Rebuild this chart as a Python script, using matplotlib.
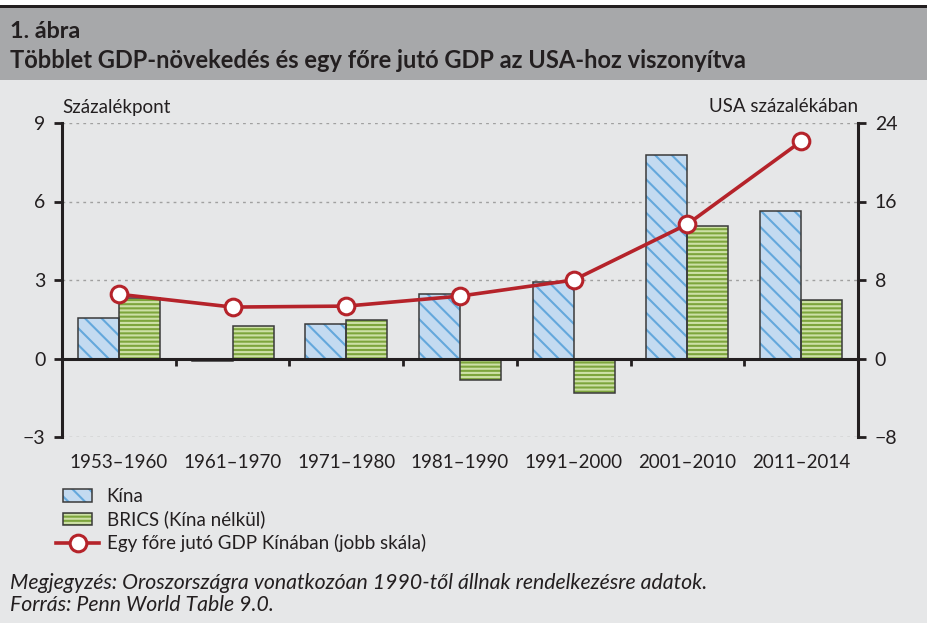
import matplotlib
matplotlib.use("Agg")
import matplotlib.pyplot as plt
import numpy as np
from matplotlib.patches import Patch, Rectangle
from matplotlib.lines import Line2D
from matplotlib.legend_handler import HandlerTuple, HandlerPatch

# data
periods = ["1953–1960", "1961–1970", "1971–1980", "1981–1990",
           "1991–2000", "2001–2010", "2011–2014"]
kina = [1.54, -0.08, 1.30, 2.46, 2.94, 7.77, 5.62]
brics = [2.33, 1.25, 1.48, -0.84, -1.31, 5.07, 2.23]
gdp_per_capita = [6.55, 5.24, 5.34, 6.36, 8.0, 13.69, 22.13]

left_ticks = [-3, 0, 3, 6, 9]
right_ticks = [-8, 0, 8, 16, 24]

bg = "#e6e7e8"
band = "#a7a8aa"
blue_face, blue_hatch = "#c3daf0", "#64a8dc"
green_face, green_hatch = "#7da53c", "#cde0a6"
red = "#b5232a"
dark = "#231f20"

plt.rcParams["font.family"] = ["Lato", "DejaVu Sans"]
plt.rcParams["hatch.linewidth"] = 1.5
plt.rcParams["text.color"] = dark

fig = plt.figure(figsize=(9.33, 6.23), dpi=100, facecolor="white")

# backgrounds
fig.patches.append(Rectangle((0, 0), 927 / 933, 1 - 5 / 623, transform=fig.transFigure,
                             facecolor=bg, edgecolor="none", zorder=-10))
fig.patches.append(Rectangle((0, 1 - 80 / 623), 927 / 933, 72 / 623, transform=fig.transFigure,
                             facecolor=band, edgecolor="none", zorder=-9))
fig.patches.append(Rectangle((0, 1 - 8 / 623), 927 / 933, 3 / 623, transform=fig.transFigure,
                             facecolor=dark, edgecolor="none", zorder=-8))

fig.text(10 / 933, 1 - 31 / 623, "1. ábra", fontsize=16.8, fontweight="bold", va="center")
fig.text(10 / 933, 1 - 60 / 623, "Többlet GDP-növekedés és egy főre jutó GDP az USA-hoz viszonyítva",
         fontsize=17, fontweight="bold", va="center")

ax = fig.add_axes([62 / 933, 1 - 437 / 623, (858 - 62) / 933, (437 - 123) / 623])
ax.set_facecolor("none")
x = np.arange(len(periods))
w = 0.36

# bars: hatched fill first, then dark outline on top
ax.bar(x - w / 2, kina, w, color=blue_face, edgecolor=blue_hatch, hatch="\\\\", linewidth=0, zorder=2)
ax.bar(x - w / 2, kina, w, fill=False, edgecolor="#3a3a3a", linewidth=1.1, zorder=3)
ax.bar(x + w / 2, brics, w, color=green_face, edgecolor=green_hatch, hatch="----", linewidth=0, zorder=2)
ax.bar(x + w / 2, brics, w, fill=False, edgecolor="#3a3a3a", linewidth=1.1, zorder=3)

ax.axhline(0, color=dark, linewidth=2.2, zorder=4)

ax.set_xlim(-0.5, len(periods) - 0.5)
ax.set_ylim(-3, 9)
ax.set_yticks(left_ticks)
ax.set_yticklabels(["−3", "0", "3", "6", "9"])
ax.set_xticks(x)
ax.set_xticklabels(periods)
ax.tick_params(axis="x", length=0, pad=12, labelsize=13.5, colors=dark)
ax.tick_params(axis="y", direction="out", length=6, width=2, pad=6, labelsize=14, colors=dark)
ax.yaxis.grid(True, color="#a0a0a0", linestyle=(0, (2, 3)), linewidth=1)
ax.set_axisbelow(True)
for s in ["top", "right", "bottom"]:
    ax.spines[s].set_visible(False)
ax.spines["left"].set_color(dark)
ax.spines["left"].set_linewidth(2.2)

# small ticks between the periods, on the zero line
sec = ax.secondary_xaxis(0.25)
sec.set_xticks(x[:-1] + 0.5)
sec.set_xticklabels([])
sec.tick_params(direction="out", length=5, width=2, color=dark)
sec.spines["bottom"].set_visible(False)

ax2 = ax.twinx()
ax2.set_ylim(-8, 24)
ax2.set_yticks(right_ticks)
ax2.set_yticklabels(["−8", "0", "8", "16", "24"])
ax2.tick_params(axis="y", direction="out", length=6, width=2, pad=6, labelsize=14, colors=dark)
for s in ["top", "left", "bottom"]:
    ax2.spines[s].set_visible(False)
ax2.spines["right"].set_color(dark)
ax2.spines["right"].set_linewidth(2.2)
ax2.plot(x, gdp_per_capita, color=red, linewidth=2.6, marker="o", markersize=12,
         markerfacecolor="white", markeredgecolor=red, markeredgewidth=2.2, zorder=5)

fig.text(62 / 933, 1 - 107 / 623, "Százalékpont", fontsize=13.5, va="center", ha="left")
fig.text(858 / 933, 1 - 107 / 623, "USA százalékában", fontsize=13.5, va="center", ha="right")


# legend: narrower boxes than the line handle
def small_box(legend, orig_handle, xdescent, ydescent, width, height, fontsize):
    inset = 5
    return Rectangle((-xdescent + inset, -ydescent), width - 2 * inset, height)


h_kina = (Patch(facecolor=blue_face, edgecolor=blue_hatch, hatch="\\\\", linewidth=0),
          Patch(fill=False, edgecolor="#3a3a3a", linewidth=1.1))
h_brics = (Patch(facecolor=green_face, edgecolor=green_hatch, hatch="----", linewidth=0),
           Patch(fill=False, edgecolor="#3a3a3a", linewidth=1.1))
h_line = Line2D([], [], color=red, linewidth=2.6, marker="o", markersize=12,
                markerfacecolor="white", markeredgecolor=red, markeredgewidth=2.2)
fig.legend([h_kina, h_brics, h_line],
           ["Kína", "BRICS (Kína nélkül)", "Egy főre jutó GDP Kínában (jobb skála)"],
           handler_map={tuple: HandlerTuple(ndivide=1, pad=0),
                        Patch: HandlerPatch(patch_func=small_box)},
           loc="upper left", bbox_to_anchor=(56 / 933, 1 - 488 / 623), frameon=False,
           fontsize=13.5, handlelength=2.3, handleheight=0.65, handletextpad=0.4,
           labelspacing=0.3, borderaxespad=0, borderpad=0, numpoints=1)

fig.text(10 / 933, 1 - 583 / 623,
         "Megjegyzés: Oroszországra vonatkozóan 1990-től állnak rendelkezésre adatok.",
         fontsize=15.3, style="italic", va="center")
fig.text(10 / 933, 1 - 605 / 623, "Forrás: Penn World Table 9.0.",
         fontsize=15.3, style="italic", va="center")

fig.savefig("out.png", dpi=100, facecolor=fig.get_facecolor())
